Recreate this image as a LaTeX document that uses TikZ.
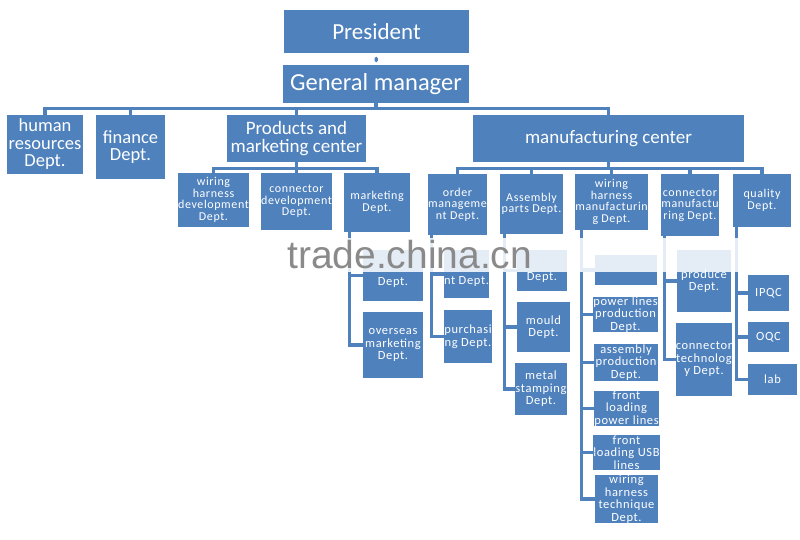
\documentclass[tikz,border=0pt]{standalone}
\usepackage{fontspec}
\setmainfont{Carlito}
\newfontfamily\wmfont{Liberation Sans}
\definecolor{orgblue}{RGB}{79,129,189}
\definecolor{wmgray}{RGB}{138,138,138}

\begin{document}
\begin{tikzpicture}[x=1pt,y=-1pt,
  box/.style={fill=orgblue,text=white,align=center,inner sep=0pt},
  sz/.style 2 args={minimum width=#1,minimum height=#2},
  topbox/.style={box,font=\fontsize{23}{26}\selectfont},
  hbox/.style={box,font=\fontsize{18.5}{17.5}\selectfont},
  dbox/.style={box,font=\addfontfeatures{LetterSpace=5}\fontsize{12}{11.5}\selectfont},
  sbox/.style={box,font=\addfontfeatures{LetterSpace=5}\fontsize{12.5}{12.5}\selectfont},
  conn/.style={draw=orgblue,line width=3.2pt,line cap=round}
]
\useasboundingbox[fill=white] (0,0) rectangle (800,539);

% top of the chart
\node[topbox,sz={185}{43}] (pres) at (376.5,31.5) {President};
\node[topbox,sz={186}{38},font=\fontsize{24.5}{26}\selectfont] (gm) at (376,84) {General manager};

% first level
\node[hbox,sz={76}{59}] (hr) at (45,144.5) {human\\resources\\Dept.};
\node[hbox,sz={69}{64}] (fin) at (130.5,147) {finance\\Dept.};
\node[hbox,sz={139}{47},font=\fontsize{19}{18}\selectfont] (pmc) at (296.5,138.5) {Products and\\marketing center};
\node[hbox,sz={271}{47},font=\fontsize{19}{18}\selectfont] (mfc) at (608.5,138.5) {manufacturing center};

% second level
\node[dbox,sz={71}{54}] (whd) at (213.5,200) {wiring\\harness\\development\\Dept.};
\node[dbox,sz={69}{57}] (cdd) at (296.5,201.5) {connector\\development\\Dept.};
\node[dbox,sz={66}{59}] (mkt) at (377,202.5) {marketing\\Dept.};
\node[dbox,sz={59}{61}] (omd) at (457.5,204.5) {order\\manageme\\nt Dept.};
\node[dbox,sz={63}{60}] (apd) at (531.5,204) {Assembly\\parts Dept.};
\node[dbox,sz={71}{56}] (whm) at (611.5,202) {wiring\\harness\\manufacturin\\g Dept.};
\node[dbox,sz={58}{62}] (cmd) at (690,205) {connector\\manufactu\\ring Dept.};
\node[dbox,sz={58}{53}] (qd) at (762,200.5) {quality\\Dept.};

% third level
\node[sbox,sz={60}{51}] (dom) at (393,275.5) {\strut\\[1pt]Dept.};
\node[sbox,sz={60}{66}] (ovs) at (393,345) {overseas\\marketing\\Dept.};
\node[sbox,sz={45}{48}] (om1) at (466.5,274) {\strut\\[1pt]nt Dept.};
\node[sbox,sz={48}{53}] (pur) at (468,336.5) {purchasi\\ng Dept.};
\node[sbox,sz={50}{41}] (ap1) at (542,270.5) {\strut\\[1pt]Dept.};
\node[sbox,sz={53}{50}] (mld) at (543.5,327) {mould\\Dept.};
\node[sbox,sz={48}{52}] (mst) at (541,389) {metal\\stamping\\Dept.};
\node[sbox,sz={62}{30}] (wh1) at (626,270) {};
\node[sbox,sz={63}{35}] (plp) at (625.5,314.5) {power lines\\production\\Dept.};
\node[sbox,sz={64}{37}] (app) at (626,362.5) {assembly\\production\\Dept.};
\node[sbox,sz={63}{33}] (flp) at (626.5,408.5) {front\\loading\\power lines};
\node[sbox,sz={63}{35}] (flu) at (626.5,452.5) {front\\loading USB\\lines};
\node[sbox,sz={63}{34}] (wht) at (626.5,499) {wiring\\harness\\technique\\Dept.};
\node[sbox,sz={54}{62}] (prd) at (704,281) {produce\\Dept.};
\node[sbox,sz={54}{73}] (cnt) at (704,359.5) {connector\\technolog\\y Dept.};
\node[sbox,sz={41}{36}] (ipqc) at (768.5,293) {IPQC};
\node[sbox,sz={41}{30}] (oqc) at (768.5,337) {OQC};
\node[sbox,sz={49}{31}] (lab) at (772.5,379.5) {lab};

% connectors
\draw[conn,shorten <=5pt,shorten >=4pt] (pres) -- (gm);
\foreach \n in {hr,fin,pmc,mfc}
  \draw[conn] (gm.south) -- ++(0,5) -| (\n.north);
\foreach \n in {whd,cdd,mkt}
  \draw[conn] (pmc.south) -- ++(0,6) -| (\n.north);
\foreach \n in {omd,apd,whm,cmd,qd}
  \draw[conn] (mfc.south) -- ++(0,6) -| (\n.north);
\foreach \n in {dom,ovs}
  \draw[conn] ([xshift=6pt]mkt.south west) |- (\n.west);
\foreach \n in {om1,pur}
  \draw[conn] ([xshift=4pt]omd.south west) |- (\n.west);
\foreach \n in {ap1,mld,mst}
  \draw[conn] ([xshift=5pt]apd.south west) |- (\n.west);
\foreach \n in {wh1,plp,app,flp,flu,wht}
  \draw[conn] ([xshift=6pt]whm.south west) |- (\n.west);
\foreach \n in {prd,cnt}
  \draw[conn] ([xshift=4pt]cmd.south west) |- (\n.west);
\foreach \n in {ipqc,oqc,lab}
  \draw[conn] ([xshift=4pt]qd.south west) |- (\n.west);

% watermark
\fill[white,opacity=0.85] (345,238) rectangle (798,272);
\node[anchor=base west,inner sep=0pt,text=wmgray,font=\wmfont\fontsize{39}{40}\selectfont] (wm) at (287,268) {trade.china.cn};
\end{tikzpicture}
\end{document}
